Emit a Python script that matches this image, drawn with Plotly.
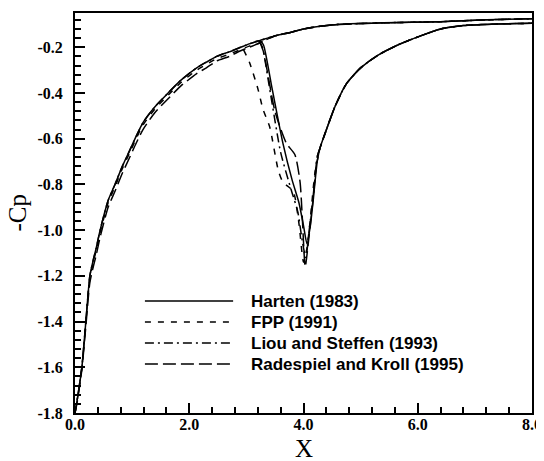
import plotly.graph_objects as go

# ---------------- data ----------------
# Leading part of the surface (common x stations)
x_front = [0.0, 0.04, 0.12, 0.19, 0.26, 0.32, 0.37, 0.44, 0.58, 0.70, 0.83, 0.96, 1.07, 1.19, 1.40, 1.63, 1.85, 2.13, 2.30, 2.48, 2.70, 2.90, 3.05, 3.24]
harten_front = [-1.80, -1.74, -1.60, -1.40, -1.20, -1.13, -1.08, -1.00, -0.87, -0.80, -0.72, -0.65, -0.59, -0.53, -0.46, -0.40, -0.345, -0.29, -0.265, -0.24, -0.22, -0.20, -0.185, -0.17]
fpp_front    = [-1.80, -1.74, -1.60, -1.40, -1.21, -1.14, -1.09, -1.01, -0.88, -0.81, -0.73, -0.66, -0.60, -0.54, -0.47, -0.41, -0.355, -0.30, -0.275, -0.25, -0.23, -0.21, -0.195, -0.18]
liou_front   = [-1.80, -1.74, -1.60, -1.40, -1.20, -1.13, -1.08, -1.00, -0.87, -0.80, -0.72, -0.65, -0.59, -0.53, -0.46, -0.40, -0.345, -0.29, -0.265, -0.24, -0.22, -0.20, -0.185, -0.17]
rk_front     = [-1.80, -1.75, -1.61, -1.42, -1.23, -1.16, -1.11, -1.03, -0.90, -0.83, -0.75, -0.68, -0.62, -0.56, -0.485, -0.425, -0.37, -0.315, -0.29, -0.26, -0.24, -0.215, -0.20, -0.18]

# Smooth branch continuing to x = 8
x_upper = [3.24, 3.50, 3.77, 4.00, 4.29, 4.60, 5.00, 5.40, 6.40, 7.20, 8.00]
cp_upper = [-0.17, -0.15, -0.135, -0.12, -0.108, -0.100, -0.096, -0.093, -0.088, -0.080, -0.075]

# Shock branch for each scheme
harten_shock_x = [3.24, 3.30, 3.45, 3.64, 3.80, 3.92, 4.00, 4.06, 4.12, 4.17, 4.24]
harten_shock_y = [-0.17, -0.19, -0.38, -0.62, -0.78, -0.88, -0.98, -1.06, -0.98, -0.87, -0.70]
fpp_shock_x = [2.95, 3.06, 3.20, 3.29, 3.41, 3.56, 3.64, 3.82, 3.92, 4.00, 4.06, 4.12, 4.20]
fpp_shock_y = [-0.21, -0.27, -0.38, -0.47, -0.55, -0.74, -0.79, -0.83, -0.97, -1.14, -1.08, -0.95, -0.75]
liou_shock_x = [3.22, 3.28, 3.42, 3.60, 3.78, 3.90, 3.98, 4.04, 4.10, 4.17, 4.24]
liou_shock_y = [-0.17, -0.20, -0.40, -0.66, -0.82, -0.92, -1.05, -1.12, -1.00, -0.85, -0.68]
rk_shock_x = [3.24, 3.30, 3.50, 3.70, 3.85, 3.94, 3.98, 4.03, 4.10, 4.17, 4.24]
rk_shock_y = [-0.18, -0.22, -0.48, -0.62, -0.67, -0.79, -0.95, -1.16, -1.02, -0.86, -0.68]

# Recovery behind the shock (common)
x_recovery = [4.29, 4.38, 4.55, 4.75, 5.00, 5.30, 5.65, 6.05, 6.40, 6.80, 7.40, 8.00]
cp_recovery = [-0.64, -0.575, -0.46, -0.36, -0.29, -0.235, -0.19, -0.15, -0.12, -0.105, -0.098, -0.095]

names = ["Harten (1983)", "FPP (1991)", "Liou and Steffen (1993)", "Radespiel and Kroll (1995)"]
fronts = [harten_front, fpp_front, liou_front, rk_front]
shocks = [(harten_shock_x, harten_shock_y), (fpp_shock_x, fpp_shock_y),
          (liou_shock_x, liou_shock_y), (rk_shock_x, rk_shock_y)]
dashes = ["solid", "6px,7px", "9px,4px,2px,4px", "13px,5px"]

x_tick_labels = ["0.0", "2.0", "4.0", "6.0", "8.0"]
y_tick_labels = ["-1.8", "-1.6", "-1.4", "-1.2", "-1.0", "-0.8", "-0.6", "-0.4", "-0.2"]
x_title = "X"
y_title = "-Cp"

# ---------------- figure ----------------
fig = go.Figure()
for name, fr, (sx, sy), dash in zip(names, fronts, shocks, dashes):
    xs = x_front + x_upper[1:] + [None] + sx + x_recovery
    ys = fr + cp_upper[1:] + [None] + sy + cp_recovery
    fig.add_trace(go.Scatter(x=xs, y=ys, mode="lines", name=name,
                             line=dict(color="black", width=1.5, dash=dash, shape="spline", smoothing=0.6),
                             showlegend=False, connectgaps=False))

# manual legend (long line samples)
leg_rows = [0.28, 0.2275, 0.175, 0.1225]
for name, dash, yy in zip(names, dashes, leg_rows):
    fig.add_shape(type="line", xref="paper", yref="paper", x0=0.153, x1=0.346, y0=yy, y1=yy,
                  line=dict(color="black", width=1.5, dash=dash))
    fig.add_annotation(xref="paper", yref="paper", x=0.381, y=yy, text="<b>%s</b>" % name,
                       showarrow=False, xanchor="left", yanchor="middle",
                       font=dict(family="Liberation Sans", size=17, color="black"))

# axis titles as free text
title_font = dict(family="Liberation Serif", size=25, color="black")
fig.add_annotation(xref="paper", yref="paper", x=0.5, y=-0.088, text=x_title, showarrow=False,
                   xanchor="center", yanchor="middle", font=title_font)
fig.add_annotation(xref="paper", yref="paper", x=-0.128, y=0.5, text=y_title, showarrow=False,
                   xanchor="center", yanchor="middle", textangle=-90, font=title_font)

axis_common = dict(showgrid=False, zeroline=False, showline=True, linecolor="black", linewidth=2,
                   mirror=True, ticks="inside", ticklen=10, tickwidth=1.5, tickcolor="black",
                   automargin=False,
                   tickfont=dict(family="Liberation Serif", size=16, color="black"))

fig.update_xaxes(range=[0, 8], tickvals=[float(s) for s in x_tick_labels],
                 ticktext=["<b>%s</b>" % s for s in x_tick_labels],
                 minor=dict(tick0=0, dtick=0.4, ticks="inside", ticklen=6, tickwidth=1.5, tickcolor="black"),
                 ticklabelstandoff=-4,
                 **axis_common)
fig.update_yaxes(range=[-1.8, -0.05], tickvals=[float(s) for s in y_tick_labels],
                 ticktext=["<b>%s</b>" % s for s in y_tick_labels],
                 minor=dict(tick0=-1.8, dtick=0.04, ticks="inside", ticklen=6, tickwidth=1.5, tickcolor="black"),
                 ticklabelstandoff=7,
                 **axis_common)

# page body has an 8px margin, so the figure is sized to fit the 544x461 window
fig.update_layout(width=536, height=453, margin=dict(l=67, r=12, t=5, b=48),
                  plot_bgcolor="white", paper_bgcolor="white", showlegend=False)

fig.write_html("out.html")
